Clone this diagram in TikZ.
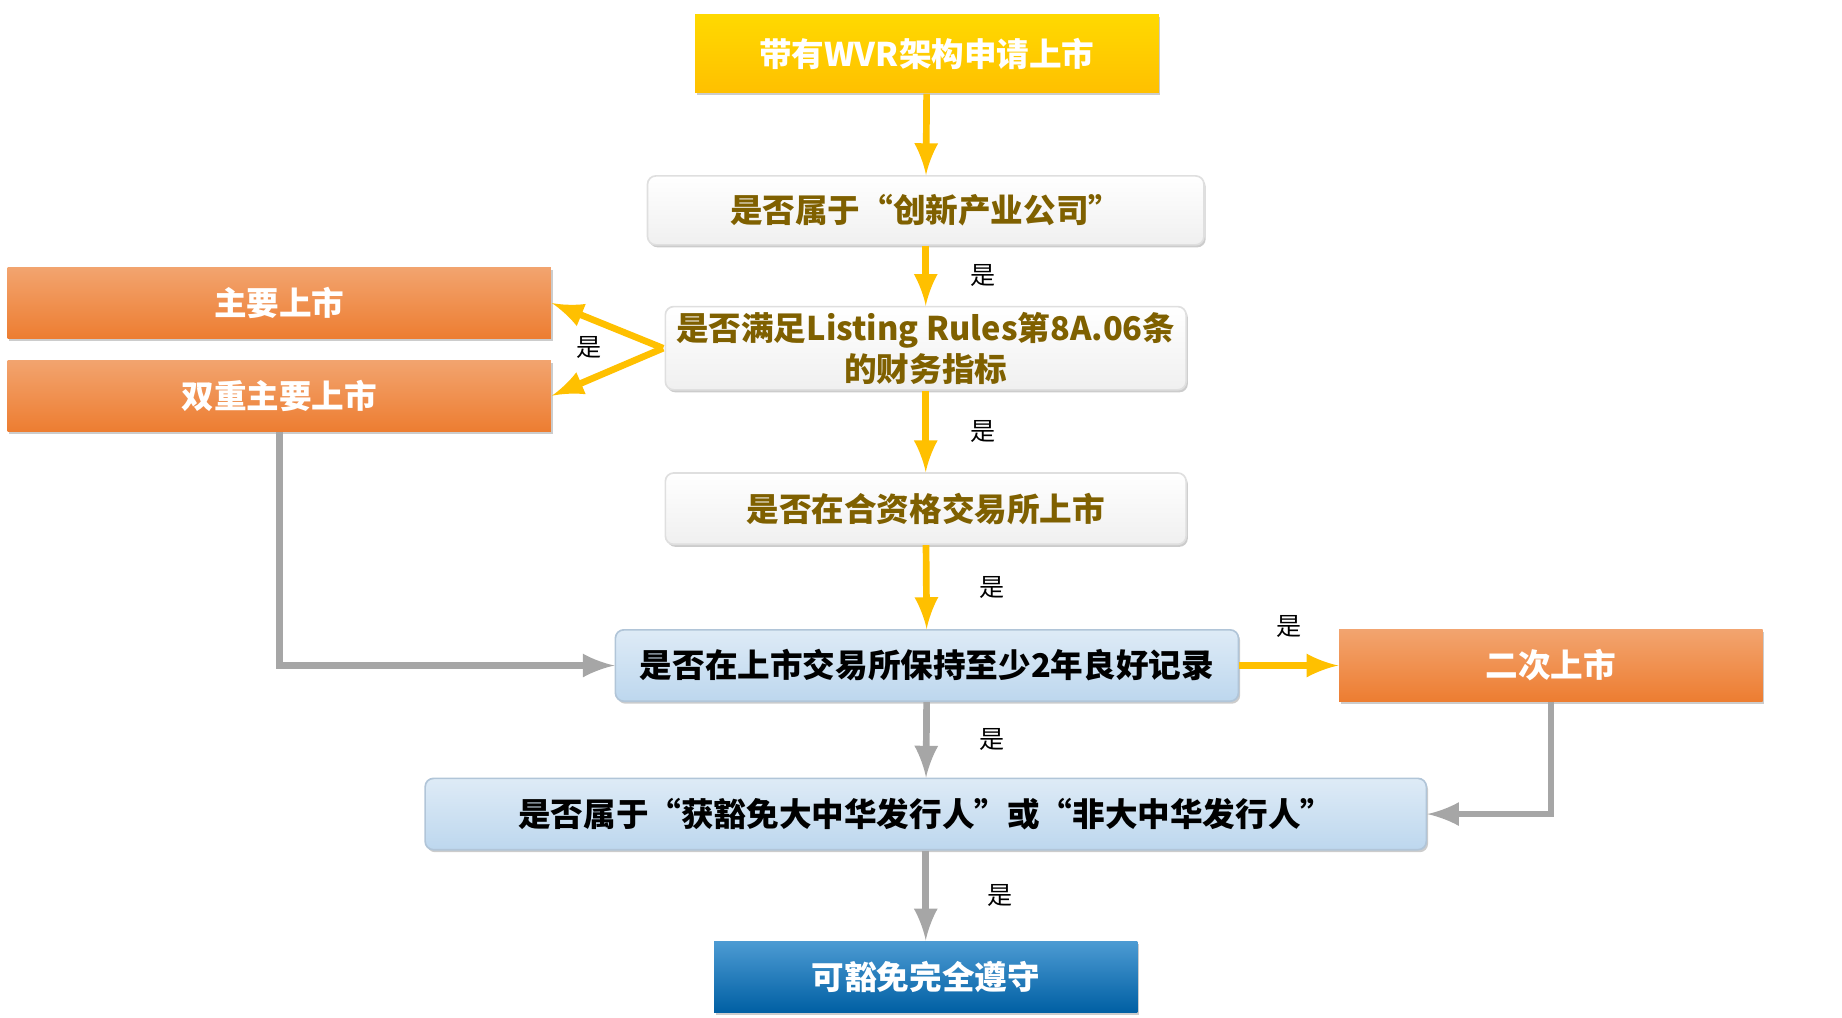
\documentclass[tikz,border=0pt]{standalone}
\usepackage{fontspec}
\setmainfont{Liberation Serif}
\newfontfamily\cjk{Noto Sans CJK SC}
\usetikzlibrary{shadows}
\definecolor{gold}{HTML}{FFC000}
\definecolor{darkgold}{HTML}{7F6000}
\definecolor{orng}{HTML}{ED7D31}
\definecolor{lblue}{HTML}{BDD7EE}
\definecolor{dblue}{HTML}{0070C0}
\begin{document}
\begin{tikzpicture}[x=0.01cm,y=-0.01cm,
  every node/.style={font=\cjk\bfseries\fontsize{7.8}{9.8}\selectfont, align=center, inner sep=0pt},
  box/.style={rectangle, drop shadow={shadow xshift=0.4pt, shadow yshift=-0.6pt, opacity=0.4}},
  yellowbox/.style={box, top color=gold!60!yellow, bottom color=gold, text=white},
  whitebox/.style={box, rounded corners=2pt, top color=white, bottom color=gray!12, draw=gray!25, text=darkgold},
  bluebox/.style={box, rounded corners=2pt, top color=lblue!50, bottom color=lblue, draw=lblue!80!gray, text=black},
  orangebox/.style={box, top color=orng!70, bottom color=orng, text=white},
  darkbox/.style={box, top color=dblue!70, bottom color=dblue!85!black, text=white},
  yarr/.style={gold, line width=1.6pt, -latex},
  garr/.style={gray!70, line width=1.6pt, -latex},
  yes/.style={text=black, font=\cjk\fontsize{6}{7.5}\selectfont}]
\useasboundingbox (0,0) rectangle (1550,856);
\node[yellowbox, minimum width=3.9cm, minimum height=0.66cm] (apply) at (780,45) {带有WVR架构申请上市};
\node[whitebox, minimum width=4.68cm, minimum height=0.58cm] (innov) at (779,177) {是否属于“创新产业公司”};
\node[whitebox, minimum width=4.38cm, minimum height=0.7cm] (rules) at (779,293) {是否满足Listing Rules第8A.06条\\的财务指标};
\node[whitebox, minimum width=4.38cm, minimum height=0.6cm] (exch) at (779,428) {是否在合资格交易所上市};
\node[bluebox, minimum width=5.24cm, minimum height=0.6cm] (record) at (780,560) {是否在上市交易所保持至少2年良好记录};
\node[bluebox, minimum width=8.42cm, minimum height=0.6cm] (issuer) at (779,685) {是否属于“获豁免大中华发行人”或“非大中华发行人”};
\node[darkbox, minimum width=3.56cm, minimum height=0.6cm] (exempt) at (779,822) {可豁免完全遵守};
\node[orangebox, minimum width=4.57cm, minimum height=0.6cm] (primary) at (235,255) {主要上市};
\node[orangebox, minimum width=4.57cm, minimum height=0.6cm] (dual) at (235,333) {双重主要上市};
\node[orangebox, minimum width=3.56cm, minimum height=0.6cm] (second) at (1305,560) {二次上市};
\coordinate (fork) at (558,293);
% yellow path
\draw[yarr] (apply) -- (innov);
\draw[yarr] (innov) -- node[yes, right=10pt] {是} (rules);
\draw[yarr] (rules) -- node[yes, right=10pt] {是} (exch);
\draw[yarr] (exch) -- node[yes, right=12pt] {是} (record);
\draw[yarr] (fork) -- (primary.east);
\draw[yarr] (fork) -- (dual.east);
\node[yes] at (496,292) {是};
\draw[yarr] (record) -- node[yes, above=6pt] {是} (second);
% gray path
\draw[garr] (record) -- node[yes, right=12pt] {是} (issuer);
\draw[garr] (issuer) -- node[yes, right=14pt] {是} (exempt);
\draw[garr] (dual.south) |- (record.west);
\draw[garr] (second.south) |- (issuer.east);
\end{tikzpicture}
\end{document}
